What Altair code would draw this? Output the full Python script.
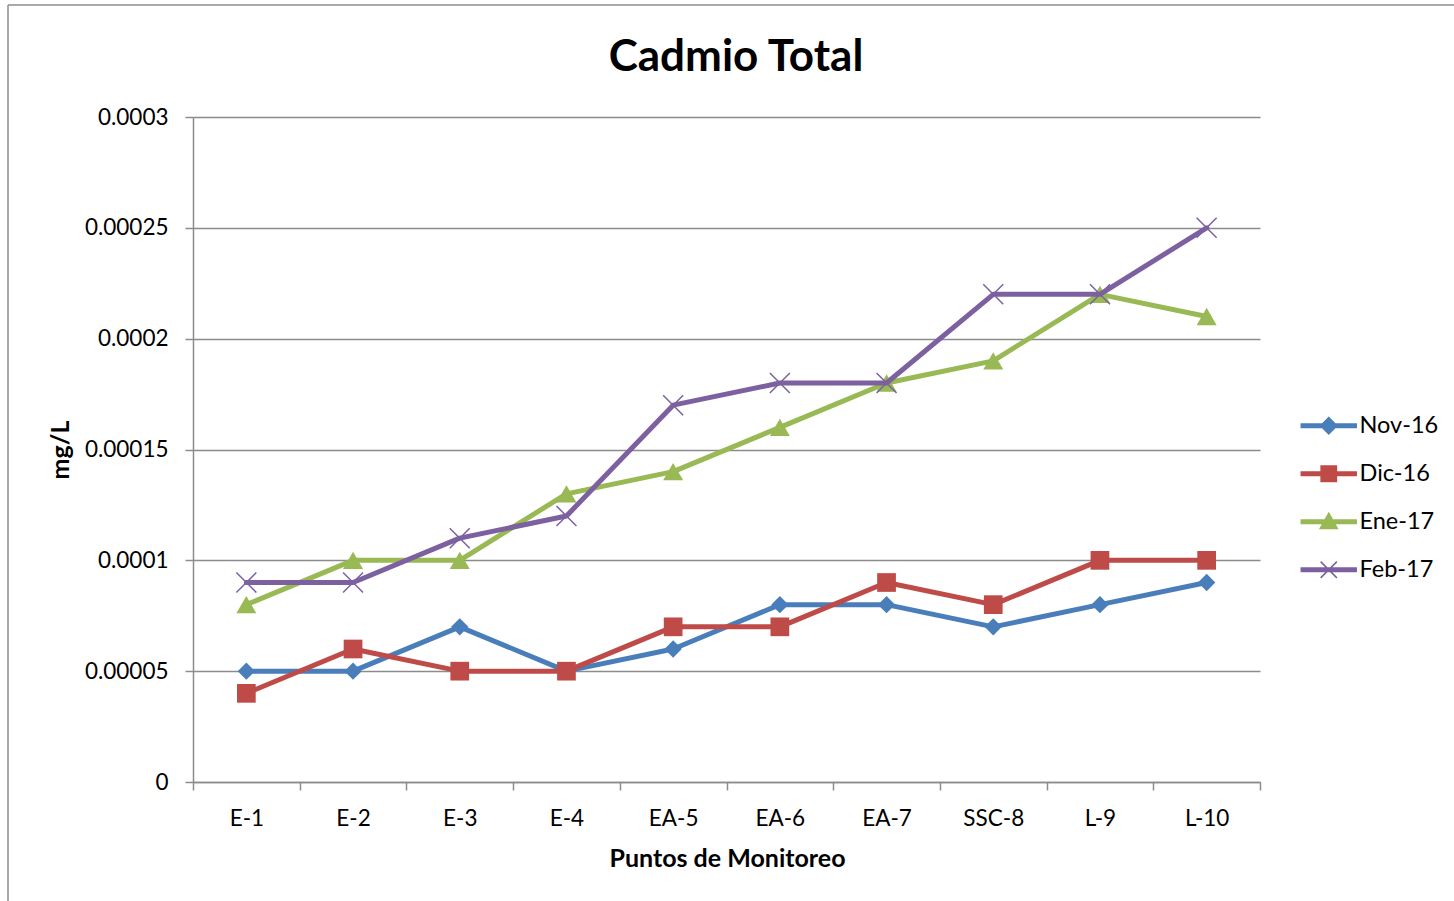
import altair as alt
import pandas as pd

# Sampling points along the monitoring route
puntos = ["E-1", "E-2", "E-3", "E-4", "EA-5", "EA-6", "EA-7", "SSC-8", "L-9", "L-10"]

# Monthly campaigns
series = ["Nov-16", "Dic-16", "Ene-17", "Feb-17"]

# Total cadmium (mg/L) per campaign
nov_16 = [0.00005, 0.00005, 0.00007, 0.00005, 0.00006, 0.00008, 0.00008, 0.00007, 0.00008, 0.00009]
dic_16 = [0.00004, 0.00006, 0.00005, 0.00005, 0.00007, 0.00007, 0.00009, 0.00008, 0.00010, 0.00010]
ene_17 = [0.00008, 0.00010, 0.00010, 0.00013, 0.00014, 0.00016, 0.00018, 0.00019, 0.00022, 0.00021]
feb_17 = [0.00009, 0.00009, 0.00011, 0.00012, 0.00017, 0.00018, 0.00018, 0.00022, 0.00022, 0.00025]

y_ticks = [0, 0.00005, 0.0001, 0.00015, 0.0002, 0.00025, 0.0003]

colores = ["#4A7EBB", "#BE4B48", "#98B954", "#7D60A0"]

FONT = "Lato"
GRID = "#8C8C8C"

rows = []
for nombre, valores in zip(series, [nov_16, dic_16, ene_17, feb_17]):
    for p, v in zip(puntos, valores):
        rows.append({"serie": nombre, "punto": p, "mgL": v})
df = pd.DataFrame(rows)

W, H = 1067, 665

# Legend glyphs: a short line segment with the series marker in the middle
LINE = "M-3.05,-0.2L3.05,-0.2L3.05,0.2L-3.05,0.2Z "
glyphs = {
    "Nov-16": LINE + "M0,-0.9L0.9,0L0,0.9L-0.9,0Z",
    "Dic-16": LINE + "M-0.85,-0.85L0.85,-0.85L0.85,0.85L-0.85,0.85Z",
    "Ene-17": LINE + "M0,-0.95L0.95,0.75L-0.95,0.75Z",
    "Feb-17": LINE + "M-0.9,-0.9L0.9,0.9M-0.9,0.9L0.9,-0.9",
}
shape_expr = " : ".join(
    f"datum.value === '{k}' ? '{v}'" for k, v in glyphs.items()
) + " : 'circle'"

legend = alt.Legend(
    title=None,
    orient="none",
    legendX=1124,
    legendY=297,
    padding=0,
    symbolSize=324,
    symbolStrokeWidth=1.5,
    symbolType={"expr": shape_expr},
    symbolFillColor={"expr": "scale('color', datum.value)"},
    symbolStrokeColor={"expr": "scale('color', datum.value)"},
    symbolOpacity=1,
    labelFont=FONT,
    labelFontSize=23.5,
    labelColor="black",
    labelOffset=19,
    rowPadding=23,
    labelLimit=200,
)

x_enc = alt.X(
    "punto:N",
    sort=puntos,
    scale=alt.Scale(type="band", domain=puntos, paddingInner=0, paddingOuter=0),
    axis=alt.Axis(
        title="Puntos de Monitoreo",
        titleFont=FONT,
        titleFontSize=25,
        titleFontWeight="bold",
        titleColor="black",
        titleX=534,
        titleY=76,
        titleBaseline="middle",
        labelFont=FONT,
        labelFontSize=22.5,
        labelColor="black",
        labelPadding=17,
        labelAngle=0,
        tickBand="extent",
        tickSize=8,
        tickColor=GRID,
        tickWidth=1.5,
        domainColor=GRID,
        domainWidth=1.5,
        grid=False,
    ),
)

y_enc = alt.Y(
    "mgL:Q",
    scale=alt.Scale(domain=[0, 0.0003], nice=False, zero=True),
    axis=alt.Axis(
        title="mg/L",
        titleFont=FONT,
        titleFontSize=25,
        titleFontWeight="bold",
        titleColor="black",
        titleAngle=-90,
        titleX=-133,
        titleY=H / 2,
        titleAlign="center",
        titleBaseline="middle",
        values=y_ticks,
        labelExpr="format(datum.value, '.5~f')",
        labelFont=FONT,
        labelFontSize=22.5,
        labelColor="black",
        labelPadding=17,
        tickSize=8,
        tickColor=GRID,
        tickWidth=1.5,
        domainColor=GRID,
        domainWidth=1.5,
        grid=True,
        gridColor=GRID,
        gridWidth=1.5,
    ),
)

color_enc = alt.Color(
    "serie:N",
    scale=alt.Scale(domain=series, range=colores),
    legend=legend,
)

base = alt.Chart(df).encode(x=x_enc, y=y_enc, color=color_enc)

markers = {
    "Nov-16": dict(shape="diamond", filled=True, size=300),
    "Dic-16": dict(shape="square", filled=True, size=350),
    "Ene-17": dict(shape="triangle-up", filled=True, size=400),
    "Feb-17": dict(shape="M-1,-1L1,1M-1,1L1,-1", filled=False, size=400, strokeWidth=1.5),
}

layers = []
for nombre in series:
    sub = base.transform_filter(alt.datum.serie == nombre)
    layers.append(sub.mark_line(strokeWidth=5, strokeJoin="round", strokeCap="round"))
    layers.append(sub.mark_point(opacity=1, **markers[nombre]))

one = pd.DataFrame({"k": [0]})

# Outer frame of the chart area (left and top edges)
frame_left = alt.Chart(one).mark_rule(color=GRID, strokeWidth=1.5).encode(
    x=alt.value(8 - 193), y=alt.value(5 - 117), y2=alt.value(901 - 117)
)
frame_top = alt.Chart(one).mark_rule(color=GRID, strokeWidth=1.5).encode(
    x=alt.value(8 - 193), x2=alt.value(1454 - 193), y=alt.value(5 - 117)
)

# Chart heading
heading = alt.Chart(one).mark_text(
    text="Cadmio Total",
    font=FONT,
    fontSize=44,
    fontWeight="bold",
    color="black",
    align="center",
    baseline="middle",
).encode(x=alt.value(736 - 193), y=alt.value(58 - 117))

chart = (
    alt.layer(frame_left, frame_top, heading, *layers)
    .properties(
        width=W,
        height=H,
        autosize=alt.AutoSizeParams(type="none"),
        padding={"left": 193, "top": 117, "right": 1454 - 193 - W, "bottom": 901 - 117 - H},
        background="white",
    )
    .configure_view(stroke=None)
)

chart.save("out.html", embed_options={"renderer": "svg", "actions": False})
